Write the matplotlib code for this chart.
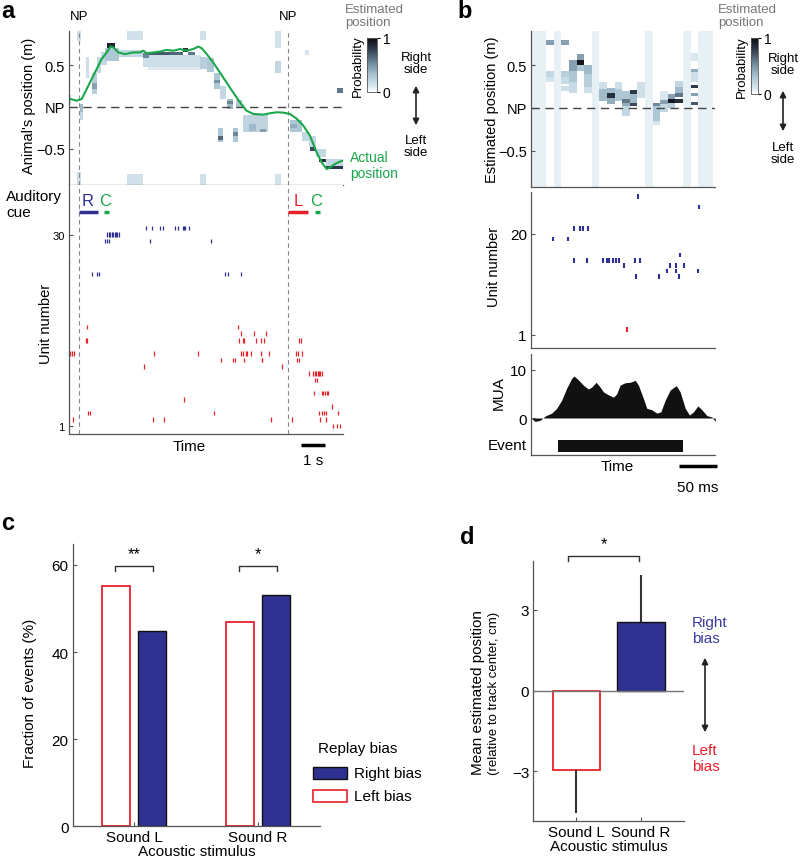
import numpy as np
import matplotlib
matplotlib.use("Agg")
import matplotlib.pyplot as plt
import matplotlib.transforms as mtransforms
from matplotlib.colors import LinearSegmentedColormap
from matplotlib.patches import Rectangle, FancyArrowPatch

plt.rcParams['font.family'] = ['Liberation Sans', 'DejaVu Sans']

W, H = 800, 862
BLUE = '#2e3192'
RED = '#e8202a'
GREEN = '#1aa64a'
GRAY = '#555555'

# ---------------- data: panel a ----------------
actual_t = [0, 0.32, 0.53, 0.8, 1.08, 1.36, 1.57, 1.74, 1.85, 2.05, 2.33, 2.68, 2.96, 3.1, 3.24,
            3.51, 3.79, 4.07, 4.35, 4.63, 4.9, 5.18, 5.39, 5.53, 5.74, 6.01, 6.29, 6.57, 6.85,
            7.125, 7.4, 7.68, 8.1, 8.375, 8.65, 8.93, 9.21, 9.49, 9.76, 10.04, 10.32, 10.53,
            10.74, 10.875, 11.08, 11.29, 11.43]
actual_pos = [0.10, 0.075, 0.095, 0.25, 0.41, 0.57, 0.65, 0.72, 0.71, 0.65, 0.63, 0.65, 0.65,
              0.67, 0.64, 0.65, 0.66, 0.68, 0.67, 0.69, 0.67, 0.69, 0.72, 0.70, 0.63, 0.53, 0.41,
              0.29, 0.17, 0.056, -0.044, -0.083, -0.091, -0.075, -0.063, -0.067, -0.083, -0.14,
              -0.22, -0.34, -0.54, -0.66, -0.74, -0.72, -0.68, -0.65, -0.64]

# decoded posterior, blocks: (t0, t1, pos0, pos1, probability)
post_a = [
    (0.33, 0.5, 0.78, 0.9, 0.15), (0.33, 0.5, -0.93, -0.78, 0.15),
    (2.4, 3.1, 0.8, 0.9, 0.14), (2.4, 3.1, -0.93, -0.8, 0.14),
    (5.45, 5.7, 0.8, 0.9, 0.14), (5.45, 5.7, -0.93, -0.8, 0.14),
    (8.6, 8.85, 0.7, 0.9, 0.14), (8.6, 8.85, -0.93, -0.8, 0.14),
    (0.0, 0.12, 0.05, 0.14, 0.25),
    (0.45, 0.6, -0.06, 0.04, 0.35), (0.45, 0.6, -0.15, -0.06, 0.2),
    (0.7, 0.85, 0.35, 0.6, 0.15),
    (0.95, 1.15, 0.15, 0.4, 0.25), (0.95, 1.15, 0.22, 0.28, 0.45),
    (1.15, 1.35, 0.4, 0.6, 0.2), (1.35, 1.6, 0.5, 0.65, 0.2),
    (1.5, 2.1, 0.55, 0.7, 0.3), (1.6, 1.9, 0.7, 0.76, 0.9),
    (1.9, 3.1, 0.6, 0.68, 0.2), (3.1, 5.5, 0.48, 0.62, 0.16), (3.3, 5.5, 0.44, 0.48, 0.09),
    (3.1, 3.35, 0.58, 0.64, 0.55), (3.35, 4.2, 0.62, 0.66, 0.7), (4.2, 4.75, 0.62, 0.66, 0.65),
    (4.75, 4.95, 0.66, 0.7, 0.85), (4.95, 5.25, 0.62, 0.66, 0.6),
    (5.45, 5.75, 0.45, 0.6, 0.25), (5.75, 6.05, 0.42, 0.58, 0.3),
    (6.05, 6.3, 0.22, 0.4, 0.3), (6.05, 6.3, 0.28, 0.32, 0.5), (6.3, 6.55, 0.1, 0.25, 0.2),
    (6.6, 6.85, -0.02, 0.1, 0.35), (6.6, 6.85, 0.03, 0.07, 0.55), (6.95, 7.2, 0.0, 0.08, 0.3),
    (6.2, 6.4, -0.42, -0.25, 0.3), (6.2, 6.4, -0.39, -0.35, 0.65),
    (6.85, 7.05, -0.42, -0.25, 0.3), (6.85, 7.05, -0.34, -0.3, 0.55),
    (7.25, 8.3, -0.3, -0.1, 0.22), (7.5, 7.8, -0.28, -0.2, 0.35), (7.95, 8.2, -0.3, -0.26, 0.45),
    (8.6, 8.85, 0.4, 0.55, 0.2), (9.85, 10.0, 0.62, 0.68, 0.12),
    (9.2, 9.7, -0.3, -0.15, 0.3), (9.2, 9.5, -0.25, -0.2, 0.4), (9.7, 10.0, -0.4, -0.3, 0.2),
    (10.0, 10.3, -0.48, -0.35, 0.2), (10.05, 10.3, -0.52, -0.48, 0.75),
    (10.3, 10.7, -0.6, -0.5, 0.2), (10.4, 10.7, -0.66, -0.62, 0.85),
    (10.7, 11.4, -0.7, -0.62, 0.2), (10.7, 11.4, -0.74, -0.7, 0.8),
    (11.15, 11.4, 0.17, 0.23, 0.6),
]

np_times_a = [0.42, 9.125]
cue_labels = ['R', 'C', 'L', 'C']
cue_start = [0.42, 1.46, 9.125, 10.25]
cue_end = [1.21, 1.67, 9.96, 10.46]
cue_text_t = [0.79, 1.5, 9.54, 10.29]

spikes_a_blue = [
    (31, [3.2, 3.45, 3.8, 3.92, 4.43, 4.53, 4.76, 4.8, 4.85, 5.01]),
    (30, [1.6, 1.66, 1.72, 1.78, 1.85, 1.9, 1.96, 2.02, 2.08]),
    (29, [1.49, 1.58, 1.68, 3.375, 5.9]),
    (26, [0.02]),
    (24, [0.94, 1.18, 1.26, 6.51, 6.63, 7.18]),
]
spikes_a_red = [
    (16, [0.74, 7.04]),
    (15, [7.15, 7.72, 8.19]),
    (14, [0.70, 0.75, 7.07, 7.26, 7.31, 7.81, 8.0, 8.11, 9.58, 9.65]),
    (12, [0.04, 0.11, 0.21, 3.53, 5.375, 7.15, 7.26, 7.37, 7.43, 7.6, 8.0, 8.32, 9.47, 9.54, 9.71]),
    (11, [6.33, 6.82, 6.93, 7.3, 8.03, 8.06, 9.49, 9.57]),
    (10, [3.125, 8.86]),
    (9, [9.99, 10.18, 10.24, 10.3, 10.36, 10.42, 10.48, 10.53]),
    (8, [10.24, 10.32]),
    (6, [10.21, 10.53, 10.6, 10.67, 10.74, 10.8]),
    (5, [4.78]),
    (4, [10.95]),
    (3, [0.8, 0.875, 6.03, 10.43, 10.53, 10.63, 10.71, 11.22]),
    (2, [0.15, 3.49, 3.96, 8.4, 9.3, 10.46, 10.71]),
    (1, [11.01, 11.18, 11.29]),
]

# ---------------- data: panel b ----------------
faint_cols_b = [0, 1, 3, 8, 15, 20, 22, 23]
post_b = {
    2: [(0.74, 0.8, 0.45), (0.36, 0.44, 0.2), (0.3, 0.36, 0.12)],
    4: [(0.74, 0.8, 0.45), (0.36, 0.44, 0.25), (0.28, 0.36, 0.18), (0.2, 0.26, 0.15)],
    5: [(0.44, 0.56, 0.45), (0.3, 0.44, 0.3), (0.18, 0.3, 0.18)],
    6: [(0.5, 0.56, 0.95), (0.56, 0.64, 0.45), (0.44, 0.5, 0.3)],
    7: [(0.4, 0.5, 0.35), (0.25, 0.4, 0.25), (0.18, 0.25, 0.15)],
    9: [(0.08, 0.22, 0.35), (0.22, 0.3, 0.15)],
    10: [(0.12, 0.18, 0.85), (0.05, 0.12, 0.4), (0.18, 0.24, 0.35)],
    11: [(0.08, 0.22, 0.3), (0.22, 0.3, 0.15)],
    12: [(0.06, 0.1, 0.6), (0.02, 0.06, 0.4), (-0.1, 0.02, 0.2), (0.1, 0.2, 0.3)],
    13: [(0.17, 0.21, 0.8), (0.02, 0.06, 0.75), (0.06, 0.17, 0.35)],
    14: [(0.12, 0.3, 0.15)],
    16: [(0.02, 0.06, 0.55), (-0.15, 0.02, 0.3), (-0.2, -0.15, 0.12)],
    17: [(0.05, 0.09, 0.45), (-0.05, 0.05, 0.2), (0.09, 0.2, 0.1)],
    18: [(0.06, 0.1, 0.95), (0.1, 0.16, 0.45), (0.0, 0.06, 0.25)],
    19: [(0.06, 0.1, 0.85), (0.13, 0.18, 0.6), (0.18, 0.25, 0.35), (0.25, 0.32, 0.2)],
    21: [(0.42, 0.46, 0.4), (0.23, 0.27, 0.8), (0.14, 0.18, 0.45), (0.03, 0.07, 0.7),
         (0.3, 0.42, 0.15), (0.55, 0.65, 0.1)],
}
spikes_b_blue = [
    (27, [141.1]),
    (25, [221.4]),
    (21, [56.5, 64.4, 68.8, 75.4]),
    (19, [29.4, 48.2]),
    (16, [196.0]),
    (15, [56.5, 74.1, 95.1, 99.5, 103.0, 107.4, 111.8, 115.7, 136.8, 143.3]),
    (14, [122.3, 182.8, 190.7, 201.6]),
    (13, [178.4, 190.7, 219.2]),
    (12, [138.1, 168.7, 195.0]),
]
spikes_b_red = [(2, [126.7])]

mua_t = [0, 5.3, 11.8, 19.7, 27.2, 33.8, 40.4, 47, 53.5, 56.6, 62.3, 68.9, 75.5, 79.9, 85.6, 90.9,
         95.3, 101.8, 108.4, 112.8, 117.2, 123.8, 130.4, 137, 141.3, 147.9, 152.3, 158.9, 165.5,
         170.8, 176.5, 183.1, 191, 196.2, 202.8, 208.5, 213.8, 219.5, 224.8, 231.3, 237.9, 242.3]
mua_v = [0, -0.7, -0.5, 0.5, 1, 2, 3.7, 6.2, 8.2, 8.7, 7.9, 6.8, 6, 6.4, 7.4, 6.4, 5.4, 4.8, 4.3,
         5, 6.8, 7.3, 7.4, 7.8, 6.8, 4, 2, 1.7, 1, 1.3, 3.7, 5.8, 6.7, 5.4, 2, 0.6, 1.3, 2.5, 1.7,
         0.5, 0.2, -0.7]
event_start, event_end = 35.1, 199.5

# ---------------- data: panels c, d ----------------
stimuli = ['Sound L', 'Sound R']
left_bias = [55.2, 46.8]
right_bias = [44.8, 53.2]
sig_c = ['**', '*']

mean_pos = [-2.94, 2.56]
sem_pos = [1.6, 1.74]


def fx(x):
    return x / W


def fy(y):
    return 1 - y / H


def box(x0, y0, x1, y1):
    return [fx(x0), fy(y1), (x1 - x0) / W, (y1 - y0) / H]


def style(ax, size=10.5):
    for s in ['top', 'right']:
        ax.spines[s].set_visible(False)
    for s in ['left', 'bottom']:
        ax.spines[s].set_color(GRAY)
        ax.spines[s].set_linewidth(0.9)
    ax.tick_params(direction='in', length=3, color=GRAY, width=0.8, labelsize=size, pad=3)


def build_grid(t_edges, p_edges, blocks):
    tc = (t_edges[:-1] + t_edges[1:]) / 2
    pc = (p_edges[:-1] + p_edges[1:]) / 2
    g = np.zeros((len(pc), len(tc)))
    for t0, t1, p0, p1, v in blocks:
        m = np.outer((pc >= p0) & (pc < p1), (tc >= t0) & (tc < t1))
        g[m] = np.maximum(g[m], v)
    return g


def ylab(x, y, s, size=10.5):
    fig.text(fx(x), fy(y), s, rotation=90, ha='center', va='center', fontsize=size)


cmap = LinearSegmentedColormap.from_list('post', [(0, '#ffffff'), (0.1, '#d9e7ef'), (0.3, '#adc7d5'),
                                                  (0.55, '#6c869a'), (0.8, '#2e3a4a'), (1, '#0a0c10')])

fig = plt.figure(figsize=(8, 8.62), dpi=100)

# ================= panel a: decoded position =================
axh = fig.add_axes(box(69, 32, 343, 186))
style(axh)
te = np.arange(0, 11.46, 0.05)
pe = np.arange(-0.95, 0.951, 0.01)
mesh_a = axh.pcolormesh(te, pe, build_grid(te, pe, post_a), cmap=cmap, vmin=0, vmax=1, shading='flat')
axh.axhline(0, color='#444444', lw=1, dashes=(6, 4))
for t in np_times_a:
    axh.axvline(t, color='#888888', lw=0.8, dashes=(4, 3))
axh.plot(actual_t, actual_pos, color=GREEN, lw=1.5)
axh.set_xlim(0, 11.42)
axh.set_ylim(-0.929, 0.905)
axh.set_xticks([])
axh.set_yticks([-0.5, 0, 0.5])
axh.set_yticklabels(['\u22120.5', 'NP', '0.5'])
ylab(29, 106, "Animal's position (m)")
for t in np_times_a:
    fig.text(fx(69 + t * 24), fy(17), 'NP', ha='center', va='center', fontsize=9.5)
fig.text(fx(350), fy(166), 'Actual\nposition', color=GREEN, fontsize=10, va='center', linespacing=1.1)

cax = fig.add_axes(box(367, 39, 377, 93))
cb = fig.colorbar(mesh_a, cax=cax, ticks=[0, 1])
cb.outline.set_linewidth(0.6)
cb.outline.set_edgecolor(GRAY)
cax.tick_params(labelsize=10, length=2, pad=2)
cb.set_label('Probability', fontsize=9.5, labelpad=2)
cax.yaxis.set_label_position('left')
fig.text(fx(345), fy(4), 'Estimated\nposition', color='#777777', fontsize=9.5, va='top', linespacing=1.15)

# side arrow a
fig.text(fx(416), fy(64), 'Right\nside', ha='center', va='center', fontsize=9.5, linespacing=1.1)
fig.text(fx(416), fy(147), 'Left\nside', ha='center', va='center', fontsize=9.5, linespacing=1.1)
fig.add_artist(FancyArrowPatch((fx(416), fy(84)), (fx(416), fy(129)), transform=fig.transFigure,
                               arrowstyle='<|-|>', mutation_scale=9, color='#222222', lw=1.2))

# ================= panel a: raster =================
axr = fig.add_axes(box(69, 186, 343, 435))
style(axr, 8)
for u, ts in spikes_a_blue:
    axr.vlines(ts, u - 0.35, u + 0.35, color=BLUE, lw=0.9)
for u, ts in spikes_a_red:
    axr.vlines(ts, u - 0.35, u + 0.35, color=RED, lw=0.9)
for t in np_times_a:
    axr.axvline(t, color='#888888', lw=0.8, dashes=(4, 3))
cue_colors = [BLUE, GREEN, RED, GREEN]
for lab, t0, t1, tt, c in zip(cue_labels, cue_start, cue_end, cue_text_t, cue_colors):
    axr.plot([t0, t1], [33.4, 33.4], color=c, lw=2.5, solid_capstyle='butt')
    axr.text(tt, 35.2, lab, color=c, fontsize=12, ha='center', va='center')
axr.set_xlim(0, 11.42)
axr.set_ylim(-0.2, 37.5)
axr.set_xticks([])
axr.set_yticks([1, 30])
ylab(46, 324, 'Unit number')
fig.text(fx(6), fy(205), 'Auditory\ncue', ha='left', va='center', fontsize=11, linespacing=1.1)
fig.text(fx(189), fy(447), 'Time', ha='center', va='center', fontsize=11)
tr = mtransforms.blended_transform_factory(axr.transData, fig.transFigure)
axr.plot([9.67, 10.67], [fy(446), fy(446)], color='k', lw=2.5, transform=tr, clip_on=False,
         solid_capstyle='butt')
axr.text(10.17, fy(461), '1 s', transform=tr, ha='center', va='center', fontsize=11)

# ================= panel b: decoded position =================
axb = fig.add_axes(box(531, 32, 715, 188))
style(axb)
tbe = np.arange(0, 250, 10.0)
blocks_b = []
for c in faint_cols_b:
    blocks_b.append((c * 10, c * 10 + 10, -0.95, 0.95, 0.065))
for c, rows in post_b.items():
    for p0, p1, v in rows:
        blocks_b.append((c * 10, c * 10 + 10, p0, p1, v))
mesh_b = axb.pcolormesh(tbe, pe, build_grid(tbe, pe, blocks_b), cmap=cmap, vmin=0, vmax=1, shading='flat')
axb.axhline(0, color='#444444', lw=1, dashes=(6, 4))
axb.set_xlim(0, 242)
axb.set_ylim(-0.929, 0.905)
axb.set_xticks([])
axb.set_yticks([-0.5, 0, 0.5])
axb.set_yticklabels(['\u22120.5', 'NP', '0.5'])
ylab(492, 110, 'Estimated position (m)')

cbx = fig.add_axes(box(751, 39, 758, 95))
cb2 = fig.colorbar(mesh_b, cax=cbx, ticks=[0, 1])
cb2.outline.set_linewidth(0.6)
cb2.outline.set_edgecolor(GRAY)
cbx.tick_params(labelsize=10, length=2, pad=2)
cb2.set_label('Probability', fontsize=9.5, labelpad=2)
cbx.yaxis.set_label_position('left')
fig.text(fx(718), fy(4), 'Estimated\nposition', color='#777777', fontsize=9.5, va='top', linespacing=1.15)

fig.text(fx(783), fy(65), 'Right\nside', ha='center', va='center', fontsize=9.5, linespacing=1.1)
fig.text(fx(783), fy(154), 'Left\nside', ha='center', va='center', fontsize=9.5, linespacing=1.1)
fig.add_artist(FancyArrowPatch((fx(783), fy(89)), (fx(783), fy(135)), transform=fig.transFigure,
                               arrowstyle='<|-|>', mutation_scale=9, color='#222222', lw=1.2))

# ================= panel b: raster =================
axbr = fig.add_axes(box(531, 193, 715, 349))
style(axbr, 11)
for u, ts in spikes_b_blue:
    axbr.vlines(ts, u - 0.45, u + 0.45, color=BLUE, lw=1.5)
for u, ts in spikes_b_red:
    axbr.vlines(ts, u - 0.45, u + 0.45, color=RED, lw=1.5)
axbr.set_xlim(0, 242)
axbr.set_ylim(-1.46, 27.8)
axbr.set_xticks([])
axbr.set_yticks([1, 20])
ylab(494, 267, 'Unit number')

# ================= panel b: MUA =================
axm = fig.add_axes(box(531, 355, 715, 456))
style(axm, 11)
axm.fill_between(mua_t, mua_v, 0, color='#111111', lw=0)
axm.add_patch(Rectangle((event_start, -6.98), event_end - event_start, 2.43, color='#111111', lw=0))
axm.set_xlim(0, 242)
axm.set_ylim(-7.66, 13.25)
axm.set_xticks([])
axm.set_yticks([0, 10])
ylab(499, 393, 'MUA', 11)
fig.text(fx(507), fy(446), 'Event', ha='center', va='center', fontsize=11)
fig.text(fx(617), fy(467), 'Time', ha='center', va='center', fontsize=11)
trb = mtransforms.blended_transform_factory(axm.transData, fig.transFigure)
axm.plot([194.6, 244.6], [fy(467), fy(467)], color='k', lw=2.5, transform=trb, clip_on=False,
         solid_capstyle='butt')
axm.text(219.6, fy(488), '50 ms', transform=trb, ha='center', va='center', fontsize=11)

# ================= panel c =================
axc = fig.add_axes(box(72.7, 545, 320, 827.3))
style(axc, 11)
xc = np.arange(len(stimuli))
axc.bar(xc - 0.145, left_bias, width=0.232, facecolor='white', edgecolor=RED, lw=1.3)
axc.bar(xc + 0.145, right_bias, width=0.232, facecolor=BLUE, edgecolor='#111111', lw=1)
for x, s in zip(xc, sig_c):
    axc.plot([x - 0.15, x - 0.15, x + 0.15, x + 0.15], [58.6, 59.8, 59.8, 58.6], color='#333333', lw=1)
    axc.text(x, 62.6, s, ha='center', va='center', fontsize=12)
axc.set_xlim(-0.494, 1.5)
axc.set_ylim(0, 64.8)
axc.set_yticks([0, 20, 40, 60])
axc.set_xticks(xc)
axc.set_xticklabels(stimuli)
ylab(30, 693, 'Fraction of events (%)', 11)
axc.set_xlabel('Acoustic stimulus', fontsize=11, labelpad=0)

fig.text(fx(318), fy(749), 'Replay bias', fontsize=11, va='center')
fig.add_artist(Rectangle((fx(313), fy(780)), 34 / W, 12 / H, transform=fig.transFigure,
                         facecolor=BLUE, edgecolor='#111111', lw=1))
fig.add_artist(Rectangle((fx(313), fy(803)), 34 / W, 12 / H, transform=fig.transFigure,
                         facecolor='white', edgecolor=RED, lw=1.2))
fig.text(fx(354), fy(774), 'Right bias', fontsize=11, va='center')
fig.text(fx(354), fy(797), 'Left bias', fontsize=11, va='center')

# ================= panel d =================
axd = fig.add_axes(box(533.3, 561.7, 684, 821.7))
style(axd, 11)
xd = np.arange(len(stimuli))
axd.axhline(0, color='#777777', lw=1)
axd.bar(xd[0], mean_pos[0], width=0.74, facecolor='white', edgecolor=RED, lw=1.3)
axd.bar(xd[1], mean_pos[1], width=0.74, facecolor=BLUE, edgecolor='#111111', lw=1)
axd.errorbar(xd, mean_pos, yerr=[[sem_pos[0], 0], [0, sem_pos[1]]], fmt='none', ecolor='#333333',
             elinewidth=1.5, capsize=0)
axd.plot([-0.136, -0.136, 0.974, 0.974], [4.82, 5.0, 5.0, 4.82], color='#333333', lw=1, clip_on=False)
axd.text(0.42, 5.45, '*', ha='center', va='center', fontsize=12)
axd.set_xlim(-0.67, 1.67)
axd.set_ylim(-4.83, 4.83)
axd.set_yticks([-3, 0, 3])
axd.set_yticklabels(['\u22123', '0', '3'])
axd.set_xticks(xd)
axd.set_xticklabels(stimuli)
axd.set_xlabel('Acoustic stimulus', fontsize=11, labelpad=0)
ylab(478, 693, 'Mean estimated position', 11)
ylab(494, 693, '(relative to track center, cm)', 9.5)
fig.text(fx(692), fy(631), 'Right\nbias', color='#3b3b9e', fontsize=11, va='center', linespacing=1.15)
fig.text(fx(692), fy(759), 'Left\nbias', color=RED, fontsize=11, va='center', linespacing=1.15)
fig.add_artist(FancyArrowPatch((fx(705), fy(656)), (fx(705), fy(736)), transform=fig.transFigure,
                               arrowstyle='<|-|>', mutation_scale=9, color='#222222', lw=1.2))

# panel letters
for lab, x, y in [('a', 8, 12), ('b', 465, 12), ('c', 8, 524), ('d', 467, 537)]:
    fig.text(fx(x), fy(y), lab, fontsize=17, fontweight='bold', ha='center', va='center')

fig.savefig('out.png', dpi=100)
